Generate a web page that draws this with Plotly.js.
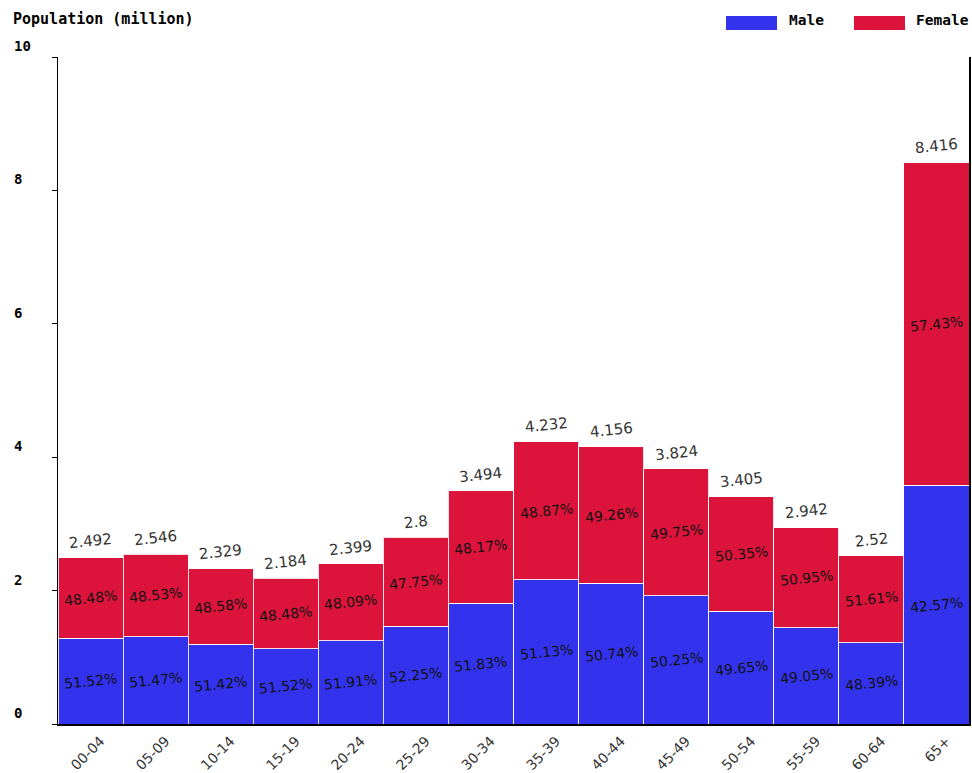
<!DOCTYPE html>
<html>
<head>
<meta charset="utf-8">
<script src="https://cdn.plot.ly/plotly-3.0.1.min.js"></script>
<style>html,body{margin:0;padding:0;background:#fff;}#chart{width:972px;height:773px;}</style>
</head>
<body>
<div id="chart"></div>
<script>
var categories = ["00-04","05-09","10-14","15-19","20-24","25-29","30-34","35-39","40-44","45-49","50-54","55-59","60-64","65+"];
var maleValues = [1.2839,1.3104,1.1976,1.1252,1.2453,1.4630,1.8109,2.1638,2.1088,1.9216,1.6906,1.4431,1.2194,3.5827];
var femaleValues = [1.2081,1.2356,1.1314,1.0588,1.1537,1.3370,1.6831,2.0682,2.0472,1.9024,1.7144,1.4989,1.3006,4.8333];
var totalLabels = ["2.492","2.546","2.329","2.184","2.399","2.8","3.494","4.232","4.156","3.824","3.405","2.942","2.52","8.416"];
var malePctLabels = ["51.52%","51.47%","51.42%","51.52%","51.91%","52.25%","51.83%","51.13%","50.74%","50.25%","49.65%","49.05%","48.39%","42.57%"];
var femalePctLabels = ["48.48%","48.53%","48.58%","48.48%","48.09%","47.75%","48.17%","48.87%","49.26%","49.75%","50.35%","50.95%","51.61%","57.43%"];
var yTickValues = [0,2,4,6,8,10];
var yTickLabels = ["0","2","4","6","8","10"];

var maleColor = "#3333EE";
var femaleColor = "#DC143C";

var traces = [
  {type:"bar", name:"Male", x:categories, y:maleValues, marker:{color:maleColor, line:{color:"rgba(255,255,255,0.85)", width:1}}, hoverinfo:"none"},
  {type:"bar", name:"Female", x:categories, y:femaleValues, marker:{color:femaleColor, line:{color:"rgba(255,255,255,0.85)", width:1}}, hoverinfo:"none"}
];

var annotations = [];
var sansFont = "DejaVu Sans, sans-serif";
for (var i = 0; i < categories.length; i++) {
  var m = maleValues[i], f = femaleValues[i];
  annotations.push({x:categories[i], y:m/2, xref:"x", yref:"y", text:malePctLabels[i], showarrow:false, textangle:-6, font:{family:sansFont, size:14, color:"#111"}});
  annotations.push({x:categories[i], y:m + f/2, xref:"x", yref:"y", text:femalePctLabels[i], showarrow:false, textangle:-6, font:{family:sansFont, size:14, color:"#111"}});
  annotations.push({x:categories[i], y:m + f, xref:"x", yref:"y", text:totalLabels[i], showarrow:false, textangle:-6, yanchor:"bottom", yshift:3, font:{family:sansFont, size:15, color:"#333"}});
}
var monoBold = "DejaVu Sans Mono, monospace";
for (var j = 0; j < yTickValues.length; j++) {
  annotations.push({x:-0.0505, y:yTickValues[j], xref:"paper", yref:"y", text:"<b>"+yTickLabels[j]+"</b>", showarrow:false, xanchor:"left", yanchor:"middle", yshift:11, font:{family:monoBold, size:14, color:"#000"}});
}
annotations.push({xref:"paper", yref:"paper", x:0, y:0, text:"<b>Population (million)</b>", showarrow:false, xanchor:"left", yanchor:"middle", font:{family:monoBold, size:15, color:"#000"}});
annotations.push({xref:"paper", yref:"paper", x:0, y:0, text:"<b>Male</b>", showarrow:false, xanchor:"left", yanchor:"middle", font:{family:monoBold, size:14.5, color:"#000"}});
annotations.push({xref:"paper", yref:"paper", x:0, y:0, text:"<b>Female</b>", showarrow:false, xanchor:"left", yanchor:"middle", font:{family:monoBold, size:14.5, color:"#000"}});

var L = 58, R = 3, T = 57, B = 49, W = 972, H = 773;
var pw = W - L - R, ph = H - T - B;
function px(xp){ return (xp - L)/pw; }
function py(yp){ return (H - B - yp)/ph; }
var n = annotations.length;
annotations[n-3].x = px(11); annotations[n-3].y = py(19);
annotations[n-2].x = px(787); annotations[n-2].y = py(20);
annotations[n-1].x = px(914); annotations[n-1].y = py(20);

var shapes = [
  {type:"rect", xref:"paper", yref:"paper", x0:px(726), x1:px(777), y0:py(30), y1:py(16), fillcolor:maleColor, line:{width:0}},
  {type:"rect", xref:"paper", yref:"paper", x0:px(854), x1:px(905), y0:py(30), y1:py(16), fillcolor:femaleColor, line:{width:0}}
];

var layout = {
  width:W, height:H,
  margin:{l:L, r:R, t:T, b:B, pad:0},
  paper_bgcolor:"#fff", plot_bgcolor:"#fff",
  barmode:"stack", bargap:0,
  showlegend:false,
  xaxis:{type:"category", showline:true, linecolor:"#000", linewidth:1.5, ticks:"", tickangle:-45, ticklabelshift:10, ticklabelstandoff:2, tickfont:{family:sansFont, size:14, color:"#333"}, showgrid:false, zeroline:false, fixedrange:true},
  yaxis:{range:[0,10], tickvals:yTickValues, showticklabels:false, ticks:"outside", ticklen:5, tickcolor:"#000", showline:true, linecolor:"#000", linewidth:1.5, mirror:true, showgrid:false, zeroline:false, fixedrange:true},
  annotations:annotations,
  shapes:shapes
};

Plotly.newPlot("chart", traces, layout, {staticPlot:true, displayModeBar:false});
</script>
</body>
</html>
